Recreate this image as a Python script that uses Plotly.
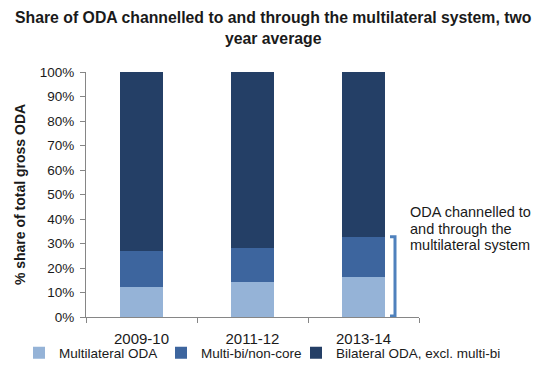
import plotly.graph_objects as go

periods = ["2009-10", "2011-12", "2013-14"]
multilateral = [12.4, 14.4, 16.3]
multibi = [14.7, 13.9, 16.5]
bilateral = [100 - a - b for a, b in zip(multilateral, multibi)]
series_names = ["Multilateral ODA", "Multi-bi/non-core", "Bilateral ODA, excl. multi-bi"]
colors = ["#95B3D7", "#3D659E", "#243F66"]
note_lines = ["ODA channelled to", "and through the", "multilateral system"]
FONT = "Liberation Sans"
TXT = "#1a1a1a"

L, R, T, B = 86, 117, 72, 48
W, H = 536, 365
pw, ph = W - L - R, H - T - B


def px_x(x):
    return (x - L) / pw


def px_y(y):
    return (H - B - y) / ph


legend_ids = ["legend", "legend2", "legend3"]
legend_left_px = [19, 161, 296]

fig = go.Figure()
for name, vals, c, lid in zip(series_names, [multilateral, multibi, bilateral], colors, legend_ids):
    fig.add_trace(go.Bar(x=periods, y=vals, name=name, marker=dict(color=c, line=dict(width=0)),
                         width=0.39, legend=lid))

top = multilateral[2] + multibi[2]
fig.add_shape(type="path", xref="paper", yref="y",
              path=f"M {px_x(390)},{top} L {px_x(395)},{top} L {px_x(395)},0.4 L {px_x(390)},0.4",
              line=dict(color="#4F81BD", width=3))
for i, line in enumerate(note_lines):
    fig.add_annotation(xref="paper", yref="paper", x=px_x(408), y=px_y(212 + 16.5 * i),
                       xanchor="left", yanchor="middle", text=line, showarrow=False,
                       font=dict(family=FONT, size=14.5, color=TXT))
fig.add_annotation(xref="paper", yref="paper", x=px_x(273), y=px_y(7),
                   xanchor="center", yanchor="top", showarrow=False, align="center",
                   text="<b>Share of ODA channelled to and through the multilateral system, two<br>year average</b>",
                   font=dict(family=FONT, size=15.8, color=TXT))

legend_common = dict(orientation="h", xref="container", yref="container", xanchor="left",
                     y=(H - 353) / H, yanchor="middle", bgcolor="rgba(0,0,0,0)",
                     font=dict(size=13.5, family=FONT, color=TXT), itemwidth=30)

fig.update_layout(
    width=W, height=H,
    margin=dict(l=L, r=R, t=T, b=B, autoexpand=False),
    paper_bgcolor="white", plot_bgcolor="white",
    barmode="stack", showlegend=True,
    font=dict(family=FONT, color=TXT),
    xaxis=dict(type="category", showline=True, linecolor="#868686", linewidth=1, ticks="outside",
               tickson="boundaries", tickcolor="#868686", ticklen=5, ticklabelstandoff=8,
               tickfont=dict(size=15, family=FONT, color=TXT), showgrid=False),
    yaxis=dict(range=[0, 100], dtick=10, ticksuffix="%", showline=True, linecolor="#868686",
               linewidth=1, ticks="outside", tickcolor="#868686", ticklen=5, showgrid=False,
               zeroline=False, ticklabelstandoff=3, tickfont=dict(size=13.5, family=FONT, color=TXT),
               title=dict(text="<b>% share of total gross ODA</b>", standoff=10,
                          font=dict(size=14, family=FONT, color=TXT))),
    legend=dict(x=legend_left_px[0] / W, **legend_common),
    legend2=dict(x=legend_left_px[1] / W, **legend_common),
    legend3=dict(x=legend_left_px[2] / W, **legend_common),
)
fig.write_html("out.html")
